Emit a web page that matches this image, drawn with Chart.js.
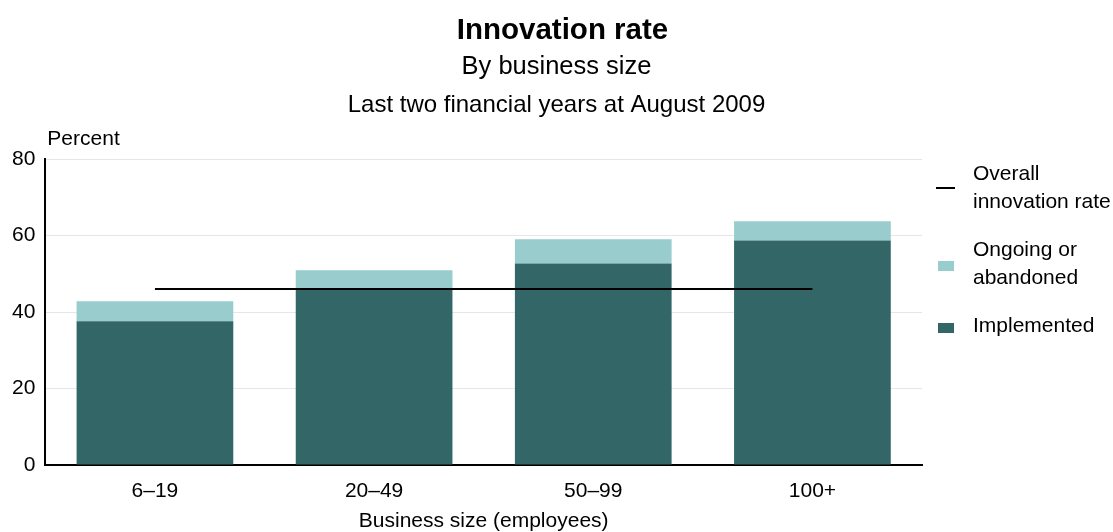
<!DOCTYPE html>
<html>
<head>
<meta charset="utf-8">
<script src="https://cdn.jsdelivr.net/npm/chart.js@4/dist/chart.umd.min.js"></script>
<style>
  html, body { margin: 0; padding: 0; background: #fff; }
  #wrap { width: 1113px; height: 532px; }
</style>
</head>
<body>
<div id="wrap"><canvas id="c" width="1113" height="532"></canvas></div>
<script>
// Innovation rate by business size (percent of businesses)
const categories = ['6–19', '20–49', '50–99', '100+'];
const implemented = [37.6, 45.8, 52.7, 58.7];
const ongoing = [5.2, 5.1, 6.3, 5.0];
const overallRate = [46, 46, 46, 46];
const yTicks = [0, 20, 40, 60, 80];

const titleText = 'Innovation rate';
const subtitleLines = ['By business size', 'Last two financial years at August 2009'];

const FONT = '"Liberation Sans", Arial, Helvetica, sans-serif';
const DARK = '#336666';
const LIGHT = '#99cccc';

Chart.defaults.color = '#000';
Chart.defaults.font.family = FONT;

// Title block centred on the whole canvas
const headerBlock = {
  id: 'headerBlock',
  afterDraw(chart) {
    const { ctx, width } = chart;
    const cx = width / 2;
    ctx.save();
    ctx.fillStyle = '#000';
    ctx.textAlign = 'center';
    ctx.textBaseline = 'alphabetic';
    ctx.font = 'bold 29.5px ' + FONT;
    ctx.fillText(titleText, cx + 6, 39);
    ctx.font = '25.5px ' + FONT;
    ctx.fillText(subtitleLines[0], cx, 73.5);
    ctx.font = '24px ' + FONT;
    ctx.fillText(subtitleLines[1], cx, 111.5);
    ctx.restore();
  }
};

// "Percent" unit label above the value axis
const unitLabel = {
  id: 'unitLabel',
  afterDraw(chart) {
    const { ctx, chartArea } = chart;
    ctx.save();
    ctx.font = '21px ' + FONT;
    ctx.fillStyle = '#000';
    ctx.textAlign = 'left';
    ctx.textBaseline = 'middle';
    ctx.fillText('Percent', chartArea.left + 2, chartArea.top - 20);
    ctx.restore();
  }
};

// Legend on the right with wrapped labels
const sideLegend = {
  id: 'sideLegend',
  afterDraw(chart) {
    const { ctx, chartArea } = chart;
    const x0 = chartArea.right + 14;
    const textX = chartArea.right + 51;
    const maxW = 140;
    const lineH = 28;
    ctx.save();
    ctx.font = '21px ' + FONT;
    ctx.textAlign = 'left';
    ctx.textBaseline = 'middle';
    const wrap = (text) => {
      const words = text.split(' ');
      const lines = [];
      let cur = '';
      words.forEach(w => {
        const t = cur ? cur + ' ' + w : w;
        if (cur && ctx.measureText(t).width > maxW) { lines.push(cur); cur = w; }
        else cur = t;
      });
      if (cur) lines.push(cur);
      return lines;
    };
    let y = 174;
    const ds = chart.data.datasets.slice().reverse();
    ds.forEach(d => {
      const lines = wrap(d.label);
      const mid = y + (lines.length - 1) * lineH / 2;
      if (d.type === 'line') {
        ctx.strokeStyle = d.borderColor;
        ctx.lineWidth = 2;
        ctx.beginPath();
        ctx.moveTo(x0, mid);
        ctx.lineTo(x0 + 19, mid);
        ctx.stroke();
      } else {
        ctx.fillStyle = d.backgroundColor;
        ctx.fillRect(x0 + 2, mid - 3, 16, 10);
      }
      ctx.fillStyle = '#000';
      lines.forEach((l, i) => ctx.fillText(l, textX, y + i * lineH));
      y += (lines.length - 1) * lineH + 48;
    });
    ctx.restore();
  }
};

new Chart(document.getElementById('c'), {
  data: {
    labels: categories,
    datasets: [
      {
        type: 'bar',
        label: 'Implemented',
        data: implemented,
        backgroundColor: DARK,
        stack: 'rate',
        order: 2,
        barPercentage: 0.715,
        categoryPercentage: 1
      },
      {
        type: 'bar',
        label: 'Ongoing or abandoned',
        data: ongoing,
        backgroundColor: LIGHT,
        stack: 'rate',
        order: 2,
        barPercentage: 0.715,
        categoryPercentage: 1
      },
      {
        type: 'line',
        label: 'Overall innovation rate',
        data: overallRate,
        borderColor: '#000',
        borderWidth: 2,
        pointRadius: 0,
        fill: false,
        stack: 'overall',
        order: 1
      }
    ]
  },
  options: {
    responsive: false,
    animation: false,
    layout: { padding: { left: 2, right: 191, top: 159, bottom: 0 } },
    plugins: {
      legend: { display: false },
      tooltip: { enabled: false },
      title: { display: false },
      subtitle: { display: false }
    },
    scales: {
      x: {
        stacked: true,
        grid: { display: false, drawTicks: false },
        border: { color: '#000', width: 2 },
        ticks: { font: { size: 21 }, color: '#000', padding: 14 },
        title: {
          display: true,
          text: 'Business size (employees)',
          font: { size: 21, lineHeight: 1.0 },
          color: '#000',
          padding: { top: 8, bottom: 0 }
        },
        afterFit(scale) { scale.height = 67; }
      },
      y: {
        stacked: true,
        min: yTicks[0],
        max: yTicks[yTicks.length - 1],
        grid: { color: '#e6e6e6', lineWidth: 1, drawTicks: false },
        border: { color: '#000', width: 2 },
        ticks: { stepSize: yTicks[1] - yTicks[0], font: { size: 21 }, color: '#000', padding: 10 }
      }
    }
  },
  plugins: [headerBlock, unitLabel, sideLegend]
});
</script>
</body>
</html>
